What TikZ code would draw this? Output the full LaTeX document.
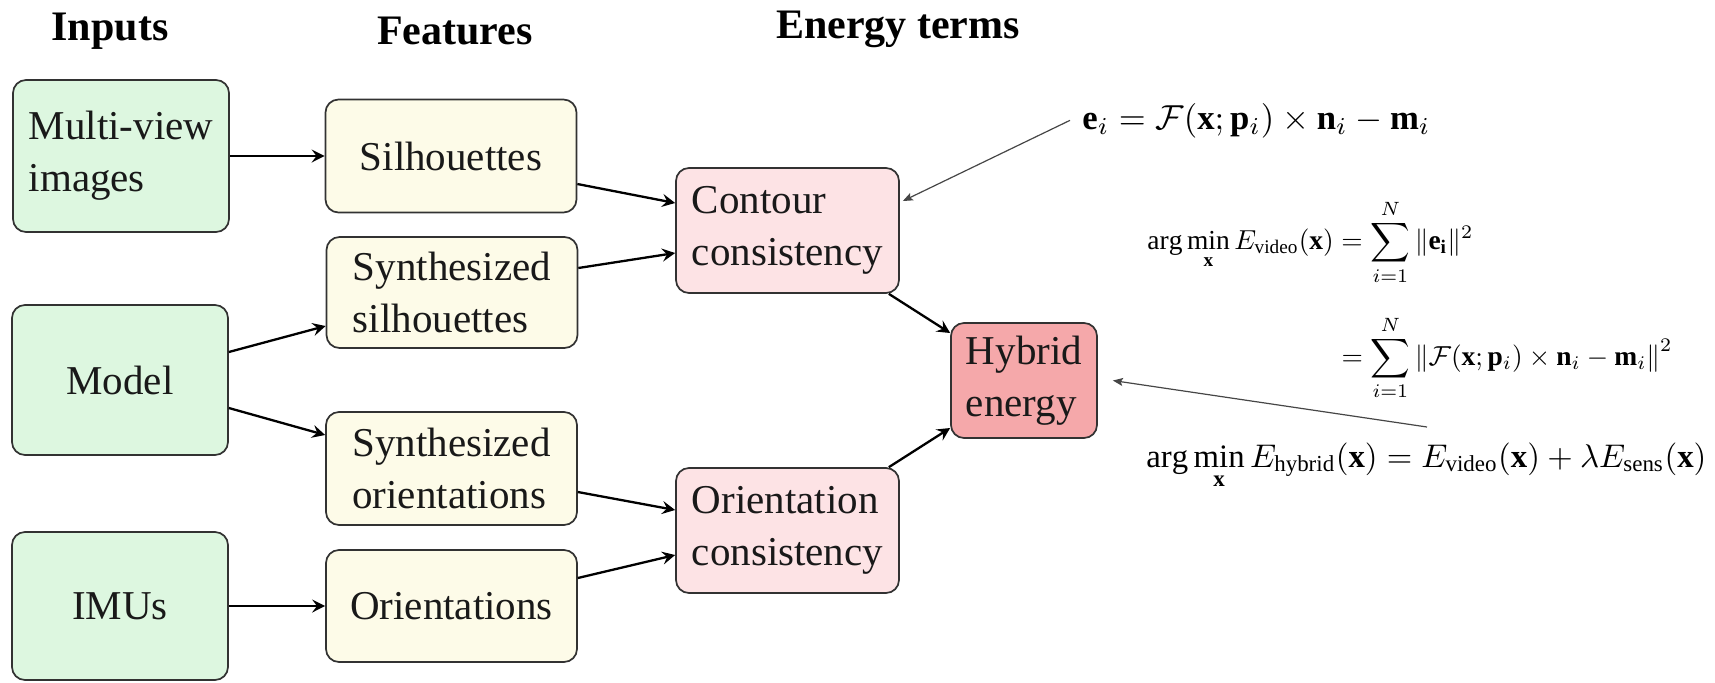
\documentclass[tikz,border=0pt]{standalone}
\usepackage{amsmath}
\usepackage{graphicx}
\usepackage{fontspec}
\setmainfont{Liberation Serif}
\usetikzlibrary{arrows.meta}
\definecolor{ingreen}{RGB}{221,247,224}
\definecolor{featcream}{RGB}{253,251,232}
\definecolor{enpink}{RGB}{253,227,229}
\definecolor{hybred}{RGB}{245,168,170}
\definecolor{edgegray}{RGB}{50,50,50}
\definecolor{notegray}{RGB}{70,70,70}
\begin{document}
\begin{tikzpicture}[x=0.5pt,y=-0.5pt,
  box/.style={draw=edgegray, line width=0.85pt, rounded corners=6.5pt, align=left,
    inner sep=0pt, text=black!90, font=\fontsize{20.5}{26}\selectfont},
  inbox/.style={box, fill=ingreen, minimum width=108pt, minimum height=75pt},
  featbox/.style={box, fill=featcream, minimum width=125.5pt, minimum height=56pt},
  enbox/.style={box, fill=enpink, minimum width=111.5pt, minimum height=62.5pt},
  hybbox/.style={box, fill=hybred, minimum width=73pt, minimum height=57.5pt},
  conn/.style={line width=1.15pt, -{Stealth[length=6.5pt,width=6.5pt,inset=2.4pt]}},
  note/.style={draw=notegray, line width=0.6pt, -{Stealth[length=5pt,width=4pt,inset=1pt]}},
  head/.style={anchor=base, inner sep=0pt, font=\fontsize{21}{25}\selectfont\bfseries}]
\useasboundingbox (0,0) rectangle (1715,682);

% headers
\node[head] (hin) at (110,40) {Inputs};
\node[head] (hfe) at (455,44) {Features};
\node[head] (hen) at (898,38) {Energy terms};

% inputs
\node[inbox, minimum height=76pt] (mv) at (121,156) {Multi-view\\images};
\node[inbox] (mod) at (120,380) {Model};
\node[inbox, minimum height=74pt] (imu) at (120,606) {IMUs};

% features
\node[featbox, minimum height=56.5pt] (sil) at (451,156) {Silhouettes};
\node[featbox, minimum height=55.5pt] (ssil) at (452,292.5) {Synthesized\\silhouettes};
\node[featbox, minimum height=56.5pt] (sor) at (451.5,468.5) {Synthesized\\orientations};
\node[featbox] (ori) at (451.5,606) {Orientations};

% energy terms
\node[enbox] (con) at (787.5,230.5) {Contour\\consistency};
\node[enbox] (ocon) at (787.5,530.5) {Orientation\\consistency};
\node[hybbox] (hyb) at (1024,380.5) {Hybrid\\energy};

% connectors
\draw[conn] (mv.east) -- (sil.west);
\draw[conn] ([yshift=14pt]mod.east) -- ([yshift=-16.75pt]ssil.west);
\draw[conn] ([yshift=-14pt]mod.east) -- ([yshift=16.75pt]sor.west);
\draw[conn] (imu.east) -- (ori.west);
\draw[conn] ([yshift=-14pt]sil.east) -- ([yshift=13.75pt]con.west);
\draw[conn] ([yshift=12.25pt]ssil.east) -- ([yshift=-11.25pt]con.west);
\draw[conn] ([yshift=-11.75pt]sor.east) -- ([yshift=10.25pt]ocon.west);
\draw[conn] ([yshift=14pt]ori.east) -- ([yshift=-12.25pt]ocon.west);
\draw[conn] ([xshift=-5.5pt]con.south east) -- ([yshift=23.75pt]hyb.west);
\draw[conn] ([xshift=-5.5pt]ocon.north east) -- ([yshift=-23.75pt]hyb.west);

% equations
\node[anchor=base west, inner sep=0pt] (eqe) at (1082,129)
  {\resizebox{174pt}{!}{$\mathbf{e}_i = \mathcal{F}(\mathbf{x};\mathbf{p}_i)\times\mathbf{n}_i-\mathbf{m}_i$}};
\node[anchor=west, inner sep=0pt] (eqv) at (1147,300)
  {\resizebox{262.5pt}{!}{$\displaystyle\begin{aligned}
    \arg\min_{\mathbf{x}} E_{\mathrm{video}}(\mathbf{x}) &= \sum_{i=1}^{N}\|\mathbf{e_i}\|^2\\[7pt]
    &= \sum_{i=1}^{N}\left\|\mathcal{F}(\mathbf{x};\mathbf{p}_i)\times\mathbf{n}_i-\mathbf{m}_i\right\|^2
  \end{aligned}$}};
\node[anchor=base west, inner sep=0pt] (eqh) at (1146,467)
  {\resizebox{280pt}{!}{$\displaystyle\arg\min_{\mathbf{x}} E_{\mathrm{hybrid}}(\mathbf{x}) = E_{\mathrm{video}}(\mathbf{x})+\lambda E_{\mathrm{sens}}(\mathbf{x})$}};

% annotation arrows
\coordinate (hnote) at (1427,427);
\draw[note] ([xshift=-6pt]eqe.west) -- ([xshift=1.5pt,yshift=14.75pt]con.east);
\draw[note] (hnote) -- ([xshift=7.5pt]hyb.east);
\end{tikzpicture}
\end{document}
